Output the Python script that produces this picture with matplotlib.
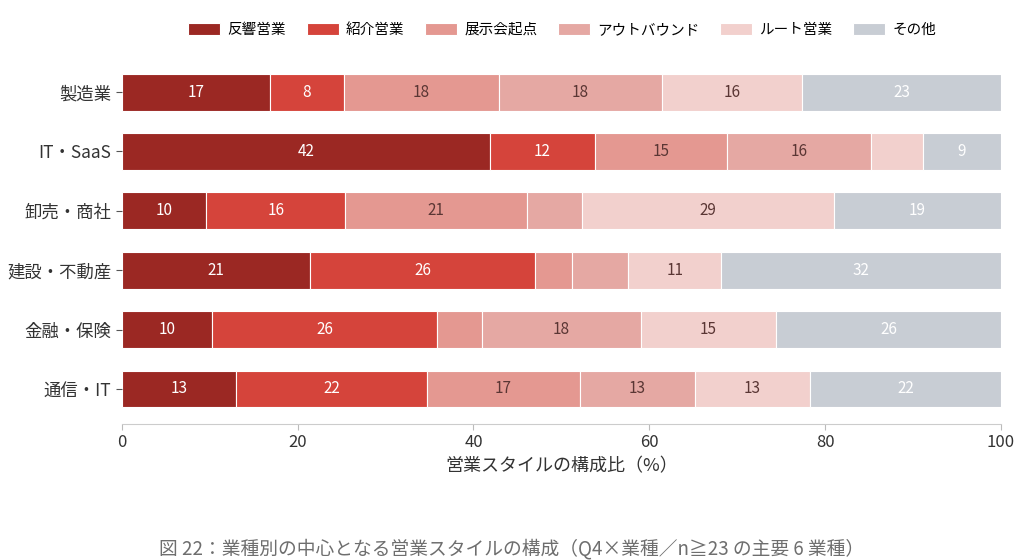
import matplotlib
matplotlib.use('Agg')
from matplotlib import pyplot as plt
import numpy as np

plt.rcParams['font.family'] = ['Noto Sans CJK JP', 'DejaVu Sans']

industries = ['製造業', 'IT・SaaS', '卸売・商社', '建設・不動産', '金融・保険', '通信・IT']
styles = ['反響営業', '紹介営業', '展示会起点', 'アウトバウンド', 'ルート営業', 'その他']

# share (%) per industry, one list per style
hankyo = [16.8, 41.9, 9.6, 21.4, 10.2, 13.0]
shokai = [8.5, 11.9, 15.8, 25.6, 25.7, 21.7]
tenjikai = [17.6, 15.0, 20.7, 4.2, 5.1, 17.4]
outbound = [18.5, 16.4, 6.2, 6.4, 18.0, 13.1]
route = [16.0, 5.9, 28.7, 10.6, 15.4, 13.1]
other = [22.6, 8.9, 19.0, 31.8, 25.6, 21.7]

series = [hankyo, shokai, tenjikai, outbound, route, other]
colors = ['#9b2823', '#d5443b', '#e49891', '#e5a8a3', '#f2d0cd', '#c8cdd4']
text_colors = ['white', 'white', '#5a3634', '#5a3634', '#5a3634', 'white']

fig = plt.figure(figsize=(10.24, 5.6), dpi=100)
ax = fig.add_axes([0.119, 0.243, 0.8585, 0.655])

y = np.arange(len(industries))
left = np.zeros(len(industries))
for vals, c, tc, name in zip(series, colors, text_colors, styles):
	vals = np.array(vals)
	ax.barh(y, vals, left=left, height=0.62, color=c, edgecolor='white', linewidth=0.8, label=name)
	for yi, (l, v) in enumerate(zip(left, vals)):
		if v >= 7:
			ax.text(l + v / 2, yi, str(int(round(v))), ha='center', va='center', color=tc, fontsize=11)
	left += vals

ax.set_xlim(0, 100)
ax.set_ylim(5.59, -0.59)
ax.set_yticks(y)
ax.set_yticklabels(industries, fontsize=12.5, color='#333333')
ax.set_xticks([0, 20, 40, 60, 80, 100])
ax.tick_params(axis='x', labelsize=12, colors='#333333', length=4, color='#bbbbbb')
ax.tick_params(axis='y', length=4, color='#555555')
for s in ['top', 'right', 'left']:
	ax.spines[s].set_visible(False)
ax.spines['bottom'].set_color('#cccccc')
ax.set_xlabel('営業スタイルの構成比（%）', fontsize=13, color='#333333', labelpad=4)

fig.legend(loc='center', bbox_to_anchor=(0.549, 0.947), ncol=6, frameon=False, fontsize=10.5,
	handlelength=2.2, handleheight=0.9, columnspacing=1.4, handletextpad=0.5)

fig.text(0.5, 0.02, '図 22：業種別の中心となる営業スタイルの構成（Q4×業種／n≧23 の主要 6 業種）',
	ha='center', va='center', fontsize=13.5, color='#6e6e6e')

plt.savefig('out.png')
